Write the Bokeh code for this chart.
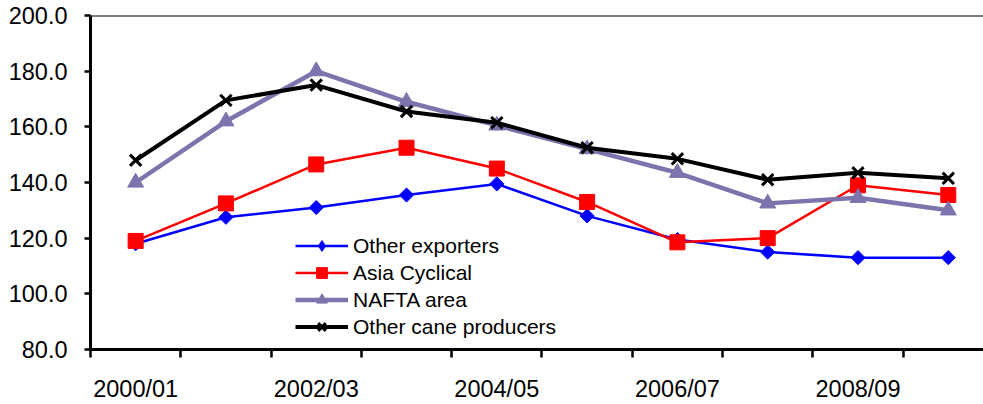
import numpy as np
from bokeh.plotting import figure
from bokeh.models import (FixedTicker, NumeralTickFormatter, Span, Legend,
                          LegendItem, Range1d)
from bokeh.embed import file_html
from bokeh.resources import INLINE

# Seasons on the x axis (every other one is labelled)
seasons = ["2000/01", "2001/02", "2002/03", "2003/04", "2004/05",
           "2005/06", "2006/07", "2007/08", "2008/09", "2009/10"]

# Index values per producer group
other_exporters = [118.0, 127.5, 131.0, 135.5, 139.5, 128.0, 119.5, 115.0, 113.0, 113.0]
asia_cyclical = [119.0, 132.5, 146.5, 152.5, 145.0, 133.0, 118.5, 120.0, 139.0, 135.5]
nafta_area = [140.0, 162.0, 180.0, 169.0, 160.5, 152.0, 143.5, 132.5, 134.5, 130.0]
other_cane = [148.0, 169.5, 175.0, 165.5, 161.5, 152.5, 148.5, 141.0, 143.5, 141.5]

FONT = "Liberation Sans"
x = list(range(len(seasons)))

p = figure(width=983, height=404, output_backend="svg", toolbar_location=None,
           x_range=Range1d(-0.5, 9.39), y_range=Range1d(80, 200),
           min_border_left=90, min_border_top=15, min_border_bottom=54,
           min_border_right=0)
p.outline_line_color = None
p.grid.visible = False
p.background_fill_color = "white"
p.border_fill_color = "white"

# y axis
yax = p.yaxis[0]
yax.ticker = FixedTicker(ticks=[80, 100, 120, 140, 160, 180, 200])
yax.formatter = NumeralTickFormatter(format="0.0")
yax.axis_line_width = 3
yax.axis_line_color = "black"
yax.major_tick_out = 6
yax.major_tick_in = 0
yax.major_tick_line_width = 2.5
yax.minor_tick_line_color = None
yax.major_label_standoff = 17
yax.major_label_text_font = FONT
yax.major_label_text_font_size = "23.5px"
yax.major_label_text_color = "black"

# x axis: labels at season centres, tick marks at season boundaries
xax = p.xaxis[0]
xax.ticker = FixedTicker(ticks=[0, 2, 4, 6, 8],
                         minor_ticks=[i - 0.5 for i in range(10)])
xax.major_label_overrides = {i: seasons[i] for i in [0, 2, 4, 6, 8]}
xax.axis_line_width = 3
xax.axis_line_color = "black"
xax.major_tick_out = 0
xax.major_tick_in = 0
xax.major_tick_line_color = None
xax.minor_tick_out = 8
xax.minor_tick_in = 0
xax.minor_tick_line_width = 2.5
xax.minor_tick_line_color = "black"
xax.major_label_standoff = 18
xax.major_label_text_font = FONT
xax.major_label_text_font_size = "23.5px"
xax.major_label_text_color = "black"

# thin top border
p.add_layout(Span(location=200, dimension="width", line_color="black", line_width=2))

BLUE, RED, PURPLE = "#0000FF", "#FF0000", "#7D74AD"
items = []

l1 = p.line(x, other_exporters, line_color=BLUE, line_width=2.5)
m1 = p.scatter(x, other_exporters, marker="square", angle=np.pi / 4, size=10,
               fill_color=BLUE, line_color=BLUE)
# diamond key for the legend (legend markers are drawn unrotated)
k1 = p.scatter(x=[np.nan], y=[np.nan], marker="diamond",
               fill_color=BLUE, line_color=BLUE)
items.append(LegendItem(label="Other exporters", renderers=[l1, k1]))

l2 = p.line(x, asia_cyclical, line_color=RED, line_width=2.5)
m2 = p.scatter(x, asia_cyclical, marker="square", size=15,
               fill_color=RED, line_color=RED)
items.append(LegendItem(label="Asia Cyclical", renderers=[l2, m2]))

l3 = p.line(x, nafta_area, line_color=PURPLE, line_width=4.5)
m3 = p.scatter(x, nafta_area, marker="triangle", size=16,
               fill_color=PURPLE, line_color=PURPLE)
items.append(LegendItem(label="NAFTA area", renderers=[l3, m3]))

l4 = p.line(x, other_cane, line_color="black", line_width=4)
m4 = p.scatter(x, other_cane, marker="x", size=16, line_color="black",
               line_width=3)
items.append(LegendItem(label="Other cane producers", renderers=[l4, m4]))

legend = Legend(items=items, location=(205, 9), orientation="vertical",
                border_line_color=None, background_fill_alpha=0,
                padding=0, margin=0, spacing=0,
                glyph_width=53, glyph_height=27, label_height=27,
                label_standoff=5,
                label_text_font=FONT, label_text_font_size="21px",
                label_text_color="black")
p.add_layout(legend, "center")

open("out.html", "w").write(file_html(p, INLINE))
